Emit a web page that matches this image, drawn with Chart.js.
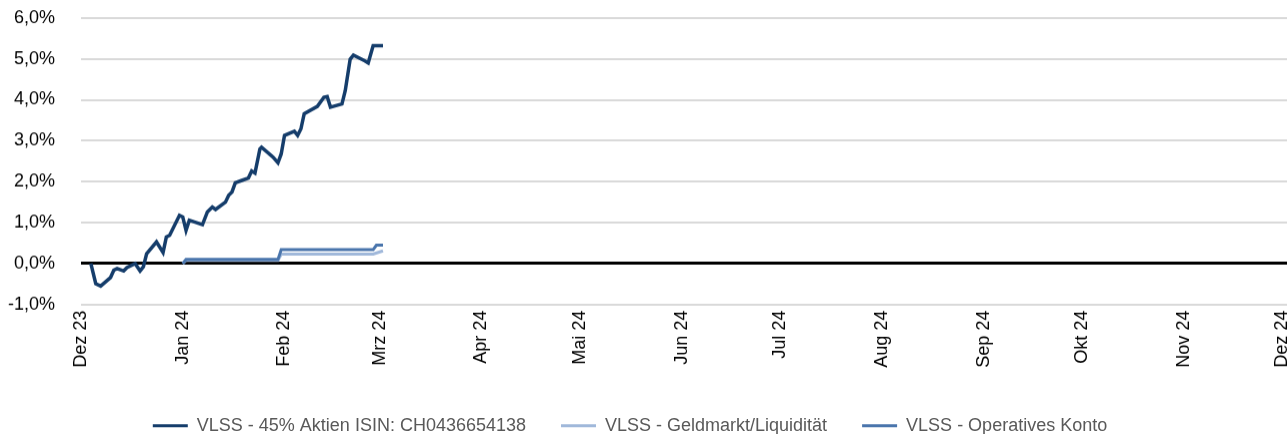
<!DOCTYPE html>
<html>
<head>
<meta charset="utf-8">
<script src="https://cdn.jsdelivr.net/npm/chart.js@4"></script>
<style>
  html, body { margin: 0; padding: 0; background: #fff; overflow: hidden; }
  #wrap { position: relative; width: 1310px; height: 475px; }
</style>
</head>
<body>
<div id="wrap"><canvas id="chart"></canvas></div>
<script>
// Monatsachse: Tage seit 1. Dez 2023
const monthDays = [0, 31, 62, 91, 122, 152, 183, 213, 244, 275, 305, 336, 366];
const monthLabels = ["Dez 23", "Jan 24", "Feb 24", "Mrz 24", "Apr 24", "Mai 24", "Jun 24",
  "Jul 24", "Aug 24", "Sep 24", "Okt 24", "Nov 24", "Dez 24"];

const seriesNames = ["VLSS - 45% Aktien ISIN: CH0436654138", "VLSS - Geldmarkt/Liquidität", "VLSS - Operatives Konto"];

// 45% Aktien
const aktienDays = [3, 4.5, 6, 9, 10, 11, 13, 14, 16.5, 18, 19, 20, 23, 25, 26, 27, 30, 31, 32, 33,
  37, 38.5, 40, 41, 44, 45, 46, 47, 49, 51, 52, 53, 54.5, 55, 58.5, 60, 61, 62, 65, 66,
  67, 68, 72, 74, 75, 76, 79.5, 80.5, 82, 83, 86.5, 87.5, 89, 92];
const aktienValues = [0, -0.49, -0.55, -0.34, -0.16, -0.12, -0.18, -0.1, 0, -0.18,
  -0.08, 0.24, 0.53, 0.27, 0.65, 0.69, 1.18, 1.14, 0.81, 1.06,
  0.95, 1.26, 1.38, 1.32, 1.5, 1.67, 1.75, 1.97, 2.03, 2.09,
  2.26, 2.21, 2.80, 2.84, 2.6, 2.46, 2.68, 3.13, 3.23, 3.13,
  3.29, 3.66, 3.84, 4.06, 4.08, 3.82, 3.9, 4.22, 4.99, 5.09,
  4.95, 4.9, 5.32, 5.32];

// Geldmarkt/Liquidität
const geldDays = [31, 32, 60, 61, 89, 92];
const geldValues = [0, 0.08, 0.08, 0.23, 0.23, 0.31];

// Operatives Konto
const kontoDays = [31, 32, 60, 61, 89, 90, 92];
const kontoValues = [0, 0.1, 0.1, 0.34, 0.34, 0.45, 0.45];

const colors = ["#153d6b", "#a0b8da", "#4a75ac"];

function pts(days, vals) {
  return days.map((d, i) => ({ x: d, y: vals[i] }));
}

const FONT = "'Liberation Sans', Arial, sans-serif";
const FS = 18;
const LEGEND_PAD = 35;

// Legende etwas nach links schieben (Mitte bei ca. 630px)
const legendShift = {
  id: "legendShift",
  afterLayout(chart) {
    chart.legend.left -= 25;
    chart.legend.right -= 25;
  }
};

const chart = new Chart(document.getElementById("chart"), {
  type: "line",
  data: {
    datasets: [
      { label: seriesNames[0], data: pts(aktienDays, aktienValues), borderColor: colors[0], backgroundColor: colors[0], borderWidth: 3.5, order: 0 },
      { label: seriesNames[1], data: pts(geldDays, geldValues), borderColor: colors[1], backgroundColor: colors[1], borderWidth: 3, order: 2 },
      { label: seriesNames[2], data: pts(kontoDays, kontoValues), borderColor: colors[2], backgroundColor: colors[2], borderWidth: 3, order: 1 }
    ]
  },
  plugins: [legendShift],
  options: {
    responsive: true,
    maintainAspectRatio: false,
    animation: false,
    elements: { point: { radius: 0 }, line: { tension: 0 } },
    scales: {
      x: {
        type: "linear",
        min: 0,
        max: 368,
        afterBuildTicks: s => { s.ticks = monthDays.map(v => ({ value: v })); },
        afterFit: s => { s.height = 77; },
        grid: { display: false, drawTicks: false },
        border: { display: false },
        ticks: {
          autoSkip: false,
          minRotation: 90,
          maxRotation: 90,
          padding: 6,
          color: "#000",
          font: { family: FONT, size: FS },
          callback: (v, i) => monthLabels[i]
        }
      },
      y: {
        min: -1,
        max: 6,
        afterFit: s => { s.width = 81; },
        grid: {
          drawTicks: false,
          color: c => c.tick.value === 0 ? "#000" : "#d9d9d9",
          lineWidth: c => c.tick.value === 0 ? 3 : 2
        },
        border: { display: false },
        ticks: {
          stepSize: 1,
          padding: 26,
          color: "#000",
          font: { family: FONT, size: FS },
          callback: v => v.toFixed(1).replace(".", ",") + "%"
        }
      }
    },
    plugins: {
      tooltip: { enabled: false },
      legend: {
        position: "bottom",
        labels: {
          boxWidth: 35,
          boxHeight: 3,
          padding: LEGEND_PAD,
          color: "#595959",
          font: { family: FONT, size: FS },
          sort: (a, b) => a.datasetIndex - b.datasetIndex,
          generateLabels: chart => chart.data.datasets.map((ds, i) => ({
            text: ds.label,
            fillStyle: ds.borderColor,
            strokeStyle: ds.borderColor,
            lineWidth: 0,
            fontColor: "#595959",
            hidden: false,
            datasetIndex: i
          }))
        }
      }
    }
  }
});

// Plotfläche auf y 18..304 ausrichten
const wrap = document.getElementById("wrap");
const top0 = chart.chartArea.top;
const legendH = FS + LEGEND_PAD + 10;
wrap.style.top = (18 - top0) + "px";
wrap.style.height = (top0 + 286 + 77 + legendH) + "px";
chart.resize();
</script>
</body>
</html>
